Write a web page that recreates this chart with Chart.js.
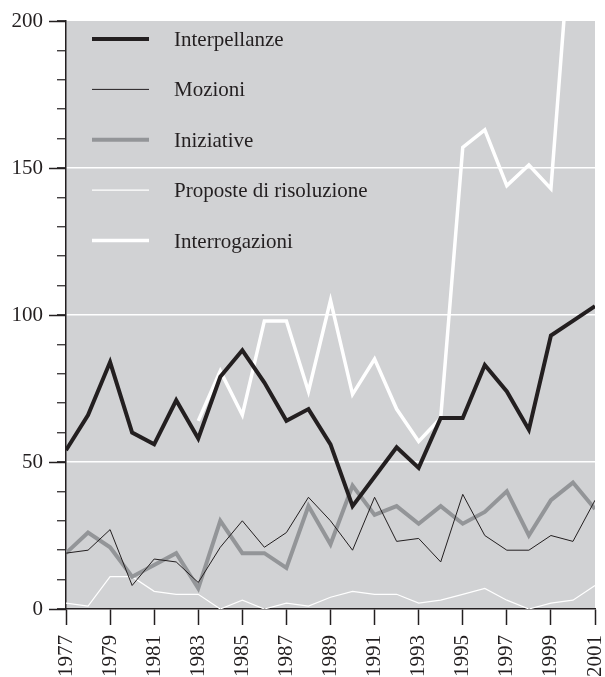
<!DOCTYPE html>
<html lang="it">
  <head>
    <meta charset="utf-8" />
    <style>
      html, body { margin: 0; padding: 0; background: #fff; }
      .chart { width: 605px; height: 677px; }
    </style>
  </head>
  <body>
    <div class="chart">
      <canvas id="myChart"></canvas>
    </div>

    <script src="https://cdn.jsdelivr.net/npm/chart.js@4.4.1/dist/chart.umd.min.js"></script>
    <script>
      // values (1977-2001)
      var years = [1977, 1978, 1979, 1980, 1981, 1982, 1983, 1984, 1985, 1986, 1987, 1988, 1989,
                   1990, 1991, 1992, 1993, 1994, 1995, 1996, 1997, 1998, 1999, 2000, 2001];
      var interpellanze = [54, 66, 84, 60, 56, 71, 58, 79, 88, 77, 64, 68, 56,
                           35, 45, 55, 48, 65, 65, 83, 74, 61, 93, 98, 103];
      var mozioni = [19, 20, 27, 8, 17, 16, 9, 21, 30, 21, 26, 38, 30,
                     20, 38, 23, 24, 16, 39, 25, 20, 20, 25, 23, 37];
      var iniziative = [19, 26, 21, 11, 15, 19, 7, 30, 19, 19, 14, 35, 22,
                        42, 32, 35, 29, 35, 29, 33, 40, 25, 37, 43, 34];
      var proposte = [2, 1, 11, 11, 6, 5, 5, 0, 3, 0, 2, 1, 4,
                      6, 5, 5, 2, 3, 5, 7, 3, 0, 2, 3, 8];
      var interrogazioni = [null, null, null, null, null, null, 64, 81, 66, 98, 98, 74, 105,
                            73, 85, 68, 57, 65, 157, 163, 144, 151, 143, 240, 250];
      var yLabels = [0, 50, 100, 150, 200];

      function pts(values) {
        return years.map(function (y, i) { return { x: y, y: values[i] }; });
      }

      var serif = "'Liberation Serif', 'DejaVu Serif', serif";

      var plotBackground = {
        id: "plotBackground",
        beforeDraw: function (chart) {
          var a = chart.chartArea;
          var ctx = chart.ctx;
          ctx.save();
          ctx.fillStyle = "#d1d2d4";
          ctx.fillRect(a.left, a.top, a.right - a.left, a.bottom - a.top);
          ctx.restore();
        },
        afterDraw: function (chart) {
          // longer marks for the labelled y ticks
          var ctx = chart.ctx;
          var ys = chart.scales.y;
          ctx.save();
          ctx.strokeStyle = "#231f20";
          ctx.lineWidth = 1.5;
          yLabels.forEach(function (v) {
            var py = Math.round(ys.getPixelForValue(v)) + 0.5;
            ctx.beginPath();
            ctx.moveTo(ys.right - 17, py);
            ctx.lineTo(ys.right, py);
            ctx.stroke();
          });
          ctx.restore();
        },
      };

      var insideLegend = {
        id: "insideLegend",
        afterDraw: function (chart) {
          var ctx = chart.ctx;
          var a = chart.chartArea;
          ctx.save();
          ctx.font = "21px " + serif;
          ctx.textBaseline = "alphabetic";
          ctx.textAlign = "left";
          chart.data.datasets.forEach(function (ds, i) {
            var y = a.top + 18 + i * 50.4;
            ctx.strokeStyle = ds.borderColor;
            ctx.lineWidth = ds.borderWidth;
            ctx.beginPath();
            ctx.moveTo(a.left + 26, y);
            ctx.lineTo(a.left + 83, y);
            ctx.stroke();
            ctx.fillStyle = "#231f20";
            ctx.fillText(ds.label, a.left + 108, y + 7);
          });
          ctx.restore();
        },
      };

      function noPad(s) {
        s.paddingLeft = 0;
        s.paddingRight = 0;
        s.paddingTop = 0;
        s.paddingBottom = 0;
      }

      var ctx = document.getElementById("myChart");
      new Chart(ctx, {
        type: "line",
        data: {
          datasets: [
            { label: "Interpellanze", data: pts(interpellanze), borderColor: "#231f20", borderWidth: 4 },
            { label: "Mozioni", data: pts(mozioni), borderColor: "#231f20", borderWidth: 1 },
            { label: "Iniziative", data: pts(iniziative), borderColor: "#939598", borderWidth: 4 },
            { label: "Proposte di risoluzione", data: pts(proposte), borderColor: "#ffffff", borderWidth: 1.2 },
            { label: "Interrogazioni", data: pts(interrogazioni), borderColor: "#ffffff", borderWidth: 3.5, clip: 0 },
          ],
        },
        options: {
          responsive: true,
          maintainAspectRatio: false,
          animation: false,
          layout: { padding: { top: 21, right: 10, left: 0, bottom: 0 } },
          elements: {
            point: { radius: 0 },
            line: { tension: 0, fill: false },
          },
          plugins: {
            legend: { display: false },
            tooltip: { enabled: false },
          },
          scales: {
            x: {
              type: "linear",
              min: 1977,
              max: 2001,
              afterFit: function (s) { s.height = 68; noPad(s); },
              ticks: {
                stepSize: 2,
                autoSkip: false,
                minRotation: 90,
                maxRotation: 90,
                padding: 10,
                color: "#231f20",
                font: { family: serif, size: 21 },
                callback: function (v) { return String(v); },
              },
              grid: {
                drawOnChartArea: false,
                tickLength: 16,
                tickColor: "#231f20",
                tickWidth: 1.5,
              },
              border: { color: "#231f20", width: 1.5 },
            },
            y: {
              min: 0,
              max: 200,
              afterFit: function (s) { s.width = 66; noPad(s); },
              ticks: {
                stepSize: 10,
                autoSkip: false,
                padding: 14,
                color: "#231f20",
                font: { family: serif, size: 21 },
                callback: function (v) { return v % 50 === 0 ? v : ""; },
              },
              grid: {
                tickLength: 9,
                tickColor: "#231f20",
                tickWidth: 1.2,
                lineWidth: 1.5,
                color: function (c) {
                  var v = c.tick && c.tick.value;
                  return v % 50 === 0 && v > 0 && v < 200 ? "#ffffff" : "rgba(0,0,0,0)";
                },
              },
              border: { color: "#231f20", width: 1.5 },
            },
          },
        },
        plugins: [plotBackground, insideLegend],
      });
    </script>
  </body>
</html>
